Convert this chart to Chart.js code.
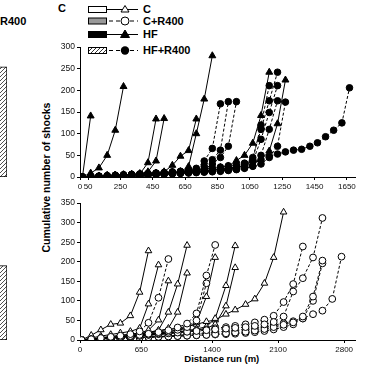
<!DOCTYPE html>
<html><head><meta charset="utf-8">
<script src="https://cdn.jsdelivr.net/npm/chart.js@4.4.1/dist/chart.umd.min.js"></script>
<style>
html,body{margin:0;padding:0;background:#fff;width:375px;height:366px;overflow:hidden;font-family:Arial,"Liberation Sans",sans-serif;color:#000;}
.abs{position:absolute;white-space:nowrap;}
.b{font-weight:bold;}
canvas{position:absolute;}
</style></head><body>
<div class="abs b" style="left:0px;top:15.5px;font-size:11px;line-height:11px;">R400</div>
<div class="abs b" style="left:58px;top:2.5px;font-size:11px;line-height:11px;">C</div>
<svg class="abs" style="left:0;top:0" width="375" height="60">
  <defs><pattern id="hp" width="4" height="4" patternUnits="userSpaceOnUse"><rect width="4" height="4" fill="#fff"/><path d="M-1,1 L1,-1 M0,4 L4,0 M3,5 L5,3" stroke="#000" stroke-width="0.8"/></pattern></defs>
  <rect x="88.5" y="6.5" width="18" height="6" fill="#fff" stroke="#000" stroke-width="1"/>
  <line x1="107" y1="9.5" x2="138" y2="9.5" stroke="#000" stroke-width="1"/>
  <polygon points="125,5.5 129,12 121,12" fill="#fff" stroke="#000" stroke-width="1"/>
  <rect x="88.5" y="18" width="18" height="6" fill="#999" stroke="#000" stroke-width="1"/>
  <line x1="109" y1="21" x2="138" y2="21" stroke="#000" stroke-width="1" stroke-dasharray="4,3"/>
  <circle cx="125" cy="21" r="4" fill="#fff" stroke="#000" stroke-width="1"/>
  <rect x="88.5" y="31.5" width="18" height="6" fill="#000" stroke="#000" stroke-width="1"/>
  <line x1="107" y1="34.5" x2="138" y2="34.5" stroke="#000" stroke-width="1"/>
  <polygon points="125,30 129.5,37.5 120.5,37.5" fill="#000" stroke="#000" stroke-width="1"/>
  <rect x="88.5" y="47.5" width="18" height="6" fill="url(#hp)" stroke="#000" stroke-width="1"/>
  <line x1="109" y1="50.5" x2="138" y2="50.5" stroke="#000" stroke-width="1" stroke-dasharray="4,3"/>
  <circle cx="125" cy="50.5" r="4.2" fill="#000"/>
</svg>
<div class="abs b" style="left:143px;top:4px;font-size:11px;line-height:11px;">C</div>
<div class="abs b" style="left:143px;top:15.5px;font-size:11px;line-height:11px;">C+R400</div>
<div class="abs b" style="left:143px;top:29px;font-size:11px;line-height:11px;">HF</div>
<div class="abs b" style="left:143px;top:45px;font-size:11px;line-height:11px;">HF+R400</div>
<div class="abs b" style="left:-54.5px;top:172px;width:200px;text-align:center;font-size:10.5px;line-height:11px;transform:rotate(-90deg);transform-origin:50% 50%;">Cumulative number of shocks</div>
<div class="abs b" style="left:121.8px;top:354px;width:200px;text-align:center;font-size:9.5px;line-height:10px;">Distance run (m)</div>

<canvas id="fragTop" width="37" height="130" style="left:-30px;top:47px;"></canvas>
<canvas id="fragBot" width="37" height="137" style="left:-30px;top:203px;"></canvas>
<canvas id="top" width="316" height="152" style="left:44px;top:40px;"></canvas>
<canvas id="bot" width="316" height="159" style="left:44px;top:196px;"></canvas>
<script>
// ---------- DATA ----------
// Top panel (HF groups): distance run (m) at which each cumulative count was recorded
const topDistances = [15,66,117,168,218,269,319,370,420,470,520,571,621,671,719,768,818,868,917,967,1017,1068,1119,1170,1221,1270,1320,1370,1421,1468,1518,1568,1619,1666];
const topTicks = [0,50,250,450,650,850,1050,1250,1450,1650];
// HF (filled triangles, solid)
const hf1 = [0,141];
const hf2 = [0,9,21,50,108,209];
const hf3 = [0,1,2,3,3,4,5,7,33,134];
const hf4 = [0,1,2,3,4,5,6,8,12,37,135];
const hf5 = [0,1,2,3,4,5,6,7,8,9,12,27,48,61,134];
const hf6 = [0,1,1,2,3,4,5,6,7,8,9,10,12,24,100,180,280];
const hf7 = [0,1,2,3,4,5,6,7,8,9,10,11,12,14,16,18,20,22,25,38,50,78,142,242];
const hf8 = [0,1,1,2,3,4,5,6,7,8,9,10,11,12,13,14,16,18,20,23,26,30,40,60,123,224];
// HF+R400 (filled circles, dashed)
const hfr1 = [0,1,2,3,4,5,6,7,8,9,10,12,13,15,17,19,21,23,26,28,32,37,40,48,53,58,62,64,71,79,93,108,125,206];
const hfr2 = [0,1,2,3,4,5,6,7,8,9,10,11,13,15,20,37,66,169];
const hfr3 = [0,1,1,2,3,4,5,6,7,8,9,10,11,12,14,25,40,62,174];
const hfr4 = [0,1,1,2,3,4,5,6,7,8,9,10,11,12,14,18,30,45,71,174];
const hfr5 = [0,1,1,2,2,3,4,5,6,7,8,9,10,11,12,14,16,18,20,24,30,45,110,176,242];
const hfr6 = [0,0,1,1,2,3,4,5,6,7,8,9,10,11,12,13,15,17,19,22,27,35,87,149,211];
const hfr7 = [0,1,1,2,3,3,4,5,6,7,8,9,10,11,12,13,14,16,18,21,28,40,120,211];
const hfr8 = [0,0,1,1,2,2,3,4,5,6,7,8,9,10,11,12,13,14,16,18,21,25,50,110,176];
const hfr9 = [0,0,0,1,1,2,2,3,4,5,6,7,8,9,10,11,12,13,15,17,20,25,30,45,71,173];

// Bottom panel (C groups)
const bottomDistances = [17,119,221,326,428,534,632,726,832,937,1035,1135,1235,1340,1433,1547,1645,1755,1853,1955,2053,2158,2260,2362,2470,2570,2674,2772];
const bottomTicks = [0,650,1400,2100,2800];
// C (open triangles, solid)
const c1 = [0,12,26,40,43,62,122,228];
const c2 = [0,5,10,14,18,22,30,92,192];
const c3 = [0,3,6,9,12,15,18,25,51,151];
const c4 = [0,2,4,6,9,12,15,19,25,71,143,242];
const c5 = [0,2,4,6,8,11,14,18,22,30,71,171];
const c6 = [0,2,4,6,8,10,12,15,18,21,25,30,45,111,211];
const c7 = [0,1,3,5,7,9,11,13,15,18,21,24,28,34,55,139,241];
const c8 = [0,1,2,4,6,8,10,12,14,16,19,22,25,30,40,87,185];
const c9 = [0,2,5,8,11,14,17,20,24,27,30,35,40,47,51,66,77,91,105,145,211,327];
// C+R400 (open circles, dashed)
const cr1 = [0,2,5,8,11,15,22,44,108,207];
const cr2 = [0,2,4,6,8,10,13,16,20,25,32,42,68,165,243];
const cr3 = [0,1,3,5,7,9,11,14,17,21,26,33,50,145];
const cr4 = [0,1,3,5,7,9,11,13,15,17,19,21,23,25,27,29,31,33,36,40,46,60,124,158,211,312];
const cr5 = [0,2,4,6,8,10,12,14,16,18,20,22,24,27,30,33,36,40,45,52,62,97,143,239];
const cr6 = [0,1,2,3,4,5,6,7,8,9,10,11,12,13,15,17,19,21,24,28,33,39,45,60,111,203];
const cr7 = [0,1,2,3,4,5,6,7,8,9,10,11,12,13,14,15,16,18,20,23,27,33,40,55,100,196];
const cr8 = [0,1,2,3,4,5,6,8,9,10,12,14,16,18,20,22,24,27,30,33,38,43,48,55,66,75,105,213];

// Cropped edge of the neighbouring panel's hatched bars
const fragTopValue = [254];
const fragBottomValue = [190];

// ---------- DRAWING ----------
function pts(dist, vals){ return vals.map((v,i)=>({x:dist[i], y:v})); }
function ds(dist, vals, opt){
  return Object.assign({
    data: pts(dist, vals), borderColor:'#000', borderWidth:1, fill:false, tension:0,
    pointBorderColor:'#000', pointBorderWidth:1
  }, opt);
}
const solidFilledTri = {pointStyle:'triangle', pointRadius:4, pointBackgroundColor:'#000'};
const dashFilledCirc = {pointStyle:'circle', pointRadius:3.3, pointBackgroundColor:'#000', borderDash:[3,2]};
const solidOpenTri = {pointStyle:'triangle', pointRadius:3.8, pointBackgroundColor:'#fff'};
const dashOpenCirc = {pointStyle:'circle', pointRadius:3.4, pointBackgroundColor:'#fff', borderDash:[3,2]};

function axisOpts(max, ticks, ymax, xFont, yFont){
  const gridOpt = {display:true, drawOnChartArea:false, drawTicks:true, tickLength:3, color:'#000', lineWidth:1};
  return {
    x:{type:'linear', min:0, max:max,
       afterBuildTicks:(s)=>{ s.ticks = ticks.map(v=>({value:v})); },
       ticks:{autoSkip:false, maxRotation:0, minRotation:0, padding:2, color:'#111',
              font:{family:'Arial', size:xFont}, callback:(v)=>String(v)},
       grid:gridOpt, border:{display:true, color:'#000', width:1},
       afterFit:(s)=>{ s.height = 15; }},
    y:{min:0, max:ymax,
       ticks:{stepSize:50, padding:2, color:'#111', font:{family:'Arial', size:yFont}, callback:(v)=>String(v)},
       grid:gridOpt, border:{display:true, color:'#000', width:1},
       afterFit:(s)=>{ s.width = 36; }}
  };
}
const common = {responsive:false, animation:false, maintainAspectRatio:false,
  plugins:{legend:{display:false}, tooltip:{enabled:false}},
  layout:{padding:{top:7, right:3, left:0, bottom:0}}};

const topSets = [];
[hfr1,hfr2,hfr3,hfr4,hfr5,hfr6,hfr7,hfr8,hfr9].forEach(a=>topSets.push(ds(topDistances,a,dashFilledCirc)));
[hf1,hf2,hf3,hf4,hf5,hf6,hf7,hf8].forEach(a=>topSets.push(ds(topDistances,a,solidFilledTri)));
new Chart(document.getElementById('top'), {type:'line', data:{datasets:topSets},
  options:Object.assign({}, common, {scales:axisOpts(1700, topTicks, 300, 8, 8.5)})});

const botSets = [];
[cr1,cr2,cr3,cr4,cr5,cr6,cr7,cr8].forEach(a=>botSets.push(ds(bottomDistances,a,dashOpenCirc)));
[c1,c2,c3,c4,c5,c6,c7,c8,c9].forEach(a=>botSets.push(ds(bottomDistances,a,solidOpenTri)));
new Chart(document.getElementById('bot'), {type:'line', data:{datasets:botSets},
  options:Object.assign({}, common, {scales:axisOpts(2915, bottomTicks, 350, 8, 8.5)})});

function hatch(){
  const c=document.createElement('canvas'); c.width=4; c.height=4;
  const g=c.getContext('2d'); g.fillStyle='#fff'; g.fillRect(0,0,4,4);
  g.strokeStyle='#222'; g.lineWidth=0.8; g.beginPath();
  g.moveTo(-1,1); g.lineTo(1,-1); g.moveTo(0,4); g.lineTo(4,0); g.moveTo(3,5); g.lineTo(5,3); g.stroke();
  return g.createPattern(c,'repeat');
}
function frag(id, vals, ymax){
  new Chart(document.getElementById(id), {type:'bar',
    data:{labels:['HF+R400'], datasets:[{data:vals, backgroundColor:hatch(), borderColor:'#000', borderWidth:1, borderSkipped:false, barPercentage:1, categoryPercentage:1}]},
    options:{responsive:false, animation:false, plugins:{legend:{display:false}, tooltip:{enabled:false}},
      layout:{padding:0}, scales:{x:{display:false}, y:{display:false, min:0, max:ymax}}}});
}
frag('fragTop', fragTopValue, 300);
frag('fragBot', fragBottomValue, 350);
</script>
</body></html>
